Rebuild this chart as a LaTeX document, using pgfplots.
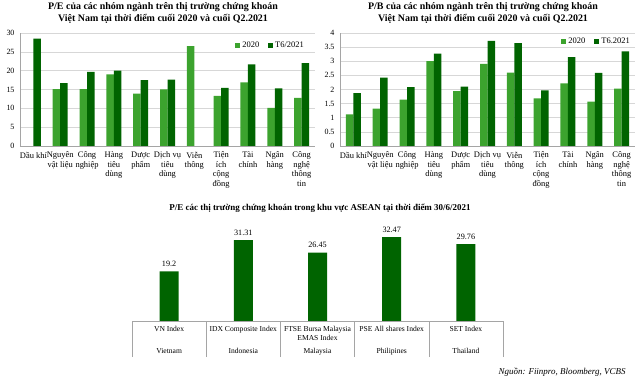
\documentclass[border=0pt]{standalone}
\usepackage{fontspec}
\setmainfont{Liberation Serif}
\usepackage{pgfplots}
\pgfplotsset{compat=1.18}
\definecolor{lg}{RGB}{60,163,46}
\definecolor{dg}{RGB}{0,100,0}
\definecolor{gridc}{RGB}{215,215,215}
\definecolor{axc}{RGB}{165,165,165}

\pgfplotsset{
 topchart/.style={
  scale only axis, anchor=south west, width=295bp, height=113bp,
  xmin=-0.5, xmax=10.5, xtick={0,...,10}, ybar=0pt, bar width=7.5bp,
  ymin=0, ymajorgrids, grid style={gridc, line width=0.6pt},
  axis x line*=bottom, axis y line*=left, axis line style={axc, -, line width=0.6pt},
  major tick length=0pt,
  /pgf/number format/assume math mode=true,
  yticklabel style={font=\fontsize{8}{9.5}\selectfont, xshift=-2bp},
  xticklabel style={align=center, font=\fontsize{8.5}{9.5}\selectfont, yshift=-2.5bp},
  xticklabels={{Dầu khí},{Nguyên\\vật liệu},{Công\\nghiệp},{Hàng\\tiêu\\dùng},{Dược\\phẩm},{Dịch vụ\\tiêu\\dùng},{Viễn\\thông},{Tiện\\ích\\cộng\\đồng},{Tài\\chính},{Ngân\\hàng},{Công\\nghệ\\thông\\tin}},
  legend style={draw=none, fill=none, font=\fontsize{8.5}{9}\selectfont, legend columns=2, /tikz/every even column/.append style={column sep=7bp}},
  legend image code/.code={\fill[##1] (0bp,-2.5bp) rectangle (5bp,2.5bp);},
 }
}

\begin{document}
\begin{tikzpicture}
\useasboundingbox (0bp,0bp) rectangle (640bp,380bp);

% titles
\node[align=center, font=\bfseries\fontsize{10}{11.5}\selectfont] at (163bp,367bp)
  {P/E của các nhóm ngành trên thị trường chứng khoán\\Việt Nam tại thời điểm cuối 2020 và cuối Q2.2021};
\node[align=center, font=\bfseries\fontsize{10}{11.5}\selectfont] at (483bp,367bp)
  {P/B của các nhóm ngành trên thị trường chứng khoán\\Việt Nam tại thời điểm cuối 2020 và cuối Q2.2021};
\node[font=\bfseries\fontsize{9}{10}\selectfont] at (320bp,172bp)
  {P/E các thị trường chứng khoán trong khu vực ASEAN tại thời điểm 30/6/2021};
\node[anchor=east, font=\itshape\fontsize{9}{10}\selectfont] at (629bp,8bp)
  {Nguồn: Fiinpro, Bloomberg, VCBS};

% P/E chart
\begin{axis}[topchart, at={(20bp,234bp)}, ymax=30, ytick={0,5,...,30},
  legend style={at={(0.98,0.96)}, anchor=north east}]
\addplot[fill=lg, draw=none] coordinates {(1,15.1) (2,15.1) (3,19.0) (4,13.9) (5,15.0) (6,26.5) (7,13.3) (8,16.9) (9,10.1) (10,12.8)};
\addplot[fill=dg, draw=none] coordinates {(0,28.5) (1,16.7) (2,19.7) (3,20.0) (4,17.5) (5,17.6) (7,15.4) (8,21.7) (9,15.3) (10,22.0)};
\legend{2020, T6/2021}
\end{axis}

% P/B chart
\begin{axis}[topchart, at={(340bp,234bp)}, ymax=4, ytick={0,0.5,...,4},
  yticklabel style={/pgf/number format/fixed},
  legend style={at={(1.0,0.99)}, anchor=north east}]
\addplot[fill=lg, draw=none] coordinates {(0,1.12) (1,1.32) (2,1.64) (3,3.0) (4,1.94) (5,2.91) (6,2.6) (7,1.69) (8,2.22) (9,1.57) (10,2.03)};
\addplot[fill=dg, draw=none] coordinates {(0,1.87) (1,2.42) (2,2.08) (3,3.27) (4,2.1) (5,3.72) (6,3.64) (7,1.97) (8,3.15) (9,2.59) (10,3.35)};
\legend{2020, T6.2021}
\end{axis}

% ASEAN chart
\begin{axis}[at={(132bp,59bp)}, anchor=south west, scale only axis,
  width=371bp, height=103.4bp, xmin=-0.5, xmax=4.5, ymin=0, ymax=40,
  ybar, bar width=19bp, axis y line=none, axis x line*=bottom,
  axis line style={axc,-,line width=0.6pt},
  /pgf/number format/assume math mode=true,
  xtick={0,...,4}, major tick length=0pt,
  xticklabels={{VN Index\\[12.5bp]Vietnam},{IDX Composite Index\\[12.5bp]Indonesia},{FTSE Bursa Malaysia\\EMAS Index\\[3bp]Malaysia},{PSE All shares Index\\[12.5bp]Philipines},{SET Index\\[12.5bp]Thailand}},
  xticklabel style={align=center, font=\fontsize{7.6}{9.5}\selectfont, yshift=-1.5bp},
  extra x ticks={-0.5,0.5,1.5,2.5,3.5,4.5}, extra x tick labels={},
  extra x tick style={major tick length=36bp, tick align=outside, tick style={axc, line width=0.6pt}},
  nodes near coords, nodes near coords style={font=\fontsize{8.2}{9}\selectfont, color=black, yshift=1bp}]
\addplot[fill=dg, draw=none] coordinates {(0,19.2) (1,31.31) (2,26.45) (3,32.47) (4,29.76)};
\end{axis}
\end{tikzpicture}
\end{document}
